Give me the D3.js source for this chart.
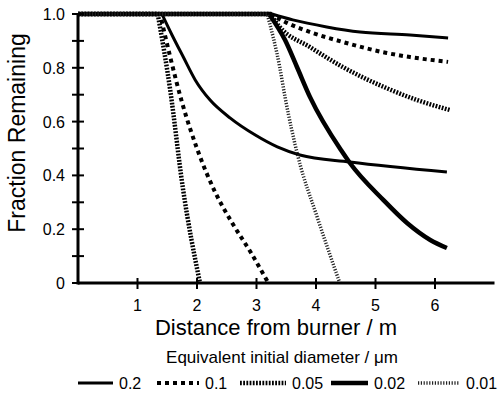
<!DOCTYPE html>
<html lang="en">
<head>
    <meta charset="UTF-8">
    <title>Fraction Remaining</title>
    <script src="https://d3js.org/d3.v7.min.js"></script>
    <style>
        body { margin: 0; background: #fff; }
        text { font-family: "Liberation Sans", Arial, sans-serif; fill: #000; }
    </style>
</head>
<body>
    <svg></svg>

    <script>
        const w = 499;
        const h = 398;

        // diameters in the legend (um)
        const diameters = ["0.2", "0.1", "0.05", "0.02", "0.01"];

        // curves starting near 1.4 m
        const nearDist02 = [0, 1.41, 1.58, 1.77, 1.97, 2.22, 2.56, 2.98, 3.35, 3.73, 4.57, 6.20];
        const nearFrac02 = [1, 1, 0.922, 0.840, 0.755, 0.680, 0.613, 0.550, 0.506, 0.476, 0.450, 0.413];
        const nearDist01 = [0, 1.38, 1.55, 1.75, 2.0, 2.3, 2.6, 2.9, 3.2];
        const nearFrac01 = [1, 1, 0.84, 0.67, 0.50, 0.34, 0.22, 0.115, 0];
        const nearDist005 = [0, 1.34, 1.55, 1.76, 2.05];
        const nearFrac005 = [1, 1, 0.717, 0.357, 0];

        // curves starting near 3.2 m
        const farDist02 = [0, 3.26, 3.61, 4.18, 4.74, 5.58, 6.22];
        const farFrac02 = [1, 1, 0.978, 0.952, 0.933, 0.922, 0.911];
        const farDist01 = [0, 3.23, 3.51, 3.90, 4.45, 5.19, 5.58, 6.22];
        const farFrac01 = [1, 1, 0.967, 0.933, 0.896, 0.855, 0.840, 0.822];
        const farDist005 = [0, 3.23, 3.39, 3.90, 4.45, 5.18, 5.70, 6.25];
        const farFrac005 = [1, 1, 0.952, 0.877, 0.803, 0.725, 0.680, 0.643];
        const farDist002 = [0, 3.21, 3.48, 3.68, 3.90, 4.42, 4.57, 5.13, 5.53, 5.92, 6.20];
        const farFrac002 = [1, 1, 0.903, 0.803, 0.691, 0.494, 0.446, 0.309, 0.223, 0.160, 0.130];
        const farDist001 = [0, 3.18, 3.39, 3.48, 3.70, 4.02, 4.40];
        const farFrac001 = [1, 1, 0.803, 0.691, 0.468, 0.245, 0];

        const xTicks = [1, 2, 3, 4, 5, 6];
        const yTicks = [0, 0.1, 0.2, 0.3, 0.4, 0.5, 0.6, 0.7, 0.8, 0.9, 1.0];
        const yLabels = ["0", "0.2", "0.4", "0.6", "0.8", "1.0"];

        const styles = {
            "0.2":  { stroke: "#000", width: 3, dash: null },
            "0.1":  { stroke: "#000", width: 4, dash: "4,4" },
            "0.05": { stroke: "#000", width: 4.5, dash: "1.8,1.4" },
            "0.02": { stroke: "#000", width: 4.5, dash: null },
            "0.01": { stroke: "#222", width: 3.5, dash: "1.2,1.6" }
        };

        const series = [
            { d: "0.2", xs: nearDist02, ys: nearFrac02 },
            { d: "0.1", xs: nearDist01, ys: nearFrac01 },
            { d: "0.05", xs: nearDist005, ys: nearFrac005 },
            { d: "0.2", xs: farDist02, ys: farFrac02 },
            { d: "0.1", xs: farDist01, ys: farFrac01 },
            { d: "0.05", xs: farDist005, ys: farFrac005 },
            { d: "0.02", xs: farDist002, ys: farFrac002 },
            { d: "0.01", xs: farDist001, ys: farFrac001 }
        ];

        const svg = d3.select("svg").attr("width", w).attr("height", h);

        const x = d3.scaleLinear().domain([0, 7]).range([78, 494.5]);
        const y = d3.scaleLinear().domain([0, 1]).range([283, 14]);

        const flat = d3.line()
            .x(p => x(p[0]))
            .y(p => y(p[1]));

        const decay = d3.line()
            .x(p => x(p[0]))
            .y(p => y(p[1]))
            .curve(d3.curveMonotoneX);

        // straight plateau at 1.0, then a smooth decay (keeps the corner sharp)
        function pathFor(s) {
            const pts = s.xs.map((v, i) => [v, s.ys[i]]);
            return flat(pts.slice(0, 2)) + decay(pts.slice(1)).replace(/^M/, "L");
        }

        const curves = svg.append("g").attr("class", "curves");
        curves.selectAll("path")
            .data(series)
            .enter()
            .append("path")
                .attr("d", pathFor)
                .attr("fill", "none")
                .attr("stroke", s => styles[s.d].stroke)
                .attr("stroke-width", s => styles[s.d].width)
                .attr("stroke-dasharray", s => styles[s.d].dash);

        // axes
        const axes = svg.append("g").attr("class", "axes");
        axes.append("line")
            .attr("x1", x(0)).attr("x2", x(7))
            .attr("y1", y(0)).attr("y2", y(0))
            .attr("stroke", "#000").attr("stroke-width", 3);
        axes.append("line")
            .attr("x1", x(0)).attr("x2", x(0))
            .attr("y1", y(0) + 1.5).attr("y2", y(1))
            .attr("stroke", "#000").attr("stroke-width", 3);

        axes.selectAll(".xtick")
            .data(xTicks)
            .enter()
            .append("line")
                .attr("class", "xtick")
                .attr("x1", d => x(d)).attr("x2", d => x(d))
                .attr("y1", y(0) - 5).attr("y2", y(0) + 6)
                .attr("stroke", "#000").attr("stroke-width", 2);

        axes.selectAll(".xlabel")
            .data(xTicks)
            .enter()
            .append("text")
                .attr("class", "xlabel")
                .attr("x", d => x(d))
                .attr("y", 311)
                .attr("text-anchor", "middle")
                .attr("font-size", 16)
                .text(d => d);

        axes.selectAll(".ytick")
            .data(yTicks)
            .enter()
            .append("line")
                .attr("class", "ytick")
                .attr("x1", x(0) - 6).attr("x2", x(0) + 6)
                .attr("y1", d => y(d)).attr("y2", d => y(d))
                .attr("stroke", "#000").attr("stroke-width", 2);

        axes.selectAll(".ylabel")
            .data(yLabels)
            .enter()
            .append("text")
                .attr("class", "ylabel")
                .attr("x", 65)
                .attr("y", d => y(+d) + 6)
                .attr("text-anchor", "end")
                .attr("font-size", 16)
                .text(d => d);

        svg.append("text")
            .attr("x", 276)
            .attr("y", 335)
            .attr("text-anchor", "middle")
            .attr("font-size", 22)
            .text("Distance from burner / m");

        svg.append("text")
            .attr("transform", "translate(25, 133) rotate(-90)")
            .attr("text-anchor", "middle")
            .attr("font-size", 23)
            .text("Fraction Remaining");

        // legend
        const legend = svg.append("g").attr("class", "legend");
        legend.append("text")
            .attr("x", 282)
            .attr("y", 363)
            .attr("text-anchor", "middle")
            .attr("font-size", 17)
            .text("Equivalent initial diameter / \u03bcm");

        const legendX = [78, 157, 240, 331, 418];
        const legendLen = [35, 42, 46, 37, 42];
        const items = legend.selectAll(".item")
            .data(diameters)
            .enter()
            .append("g")
                .attr("class", "item")
                .attr("transform", (d, i) => `translate(${legendX[i]}, 383)`);

        items.append("line")
            .attr("x1", 0).attr("x2", (d, i) => legendLen[i])
            .attr("y1", 0).attr("y2", 0)
            .attr("stroke", d => styles[d].stroke)
            .attr("stroke-width", d => styles[d].width)
            .attr("stroke-dasharray", d => styles[d].dash);

        items.append("text")
            .attr("x", (d, i) => legendLen[i] + 6)
            .attr("y", 6)
            .attr("font-size", 16)
            .text(d => d);
    </script>
</body>
</html>
